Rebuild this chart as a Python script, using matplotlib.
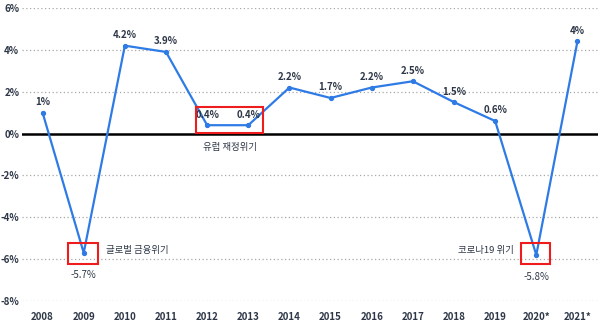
import matplotlib
matplotlib.use('Agg')
import matplotlib.pyplot as plt
from matplotlib.patches import Rectangle

plt.rcParams['font.family'] = ['Noto Sans CJK KR', 'DejaVu Sans']

# data
years = ['2008', '2009', '2010', '2011', '2012', '2013', '2014', '2015',
         '2016', '2017', '2018', '2019', '2020*', '2021*']
growth = [1.0, -5.7, 4.2, 3.9, 0.4, 0.4, 2.2, 1.7, 2.2, 2.5, 1.5, 0.6, -5.8, 4.4]
point_labels = ['1%', '-5.7%', '4.2%', '3.9%', '0.4%', '0.4%', '2.2%', '1.7%',
                '2.2%', '2.5%', '1.5%', '0.6%', '-5.8%', '4%']
y_ticks = [-8, -6, -4, -2, 0, 2, 4, 6]

line_color = '#2f7be6'
text_color = '#2e3747'
box_color = '#ee1c1c'

fig = plt.figure(figsize=(6.01, 3.21), dpi=100)
ax = fig.add_axes([22 / 601, 1 - 301 / 321, 576 / 601, 293 / 321])

x = list(range(len(years)))
ax.plot(x, growth, color=line_color, lw=1.6, marker='o', ms=2.8, zorder=3)

# point labels
for i, (v, lab) in enumerate(zip(growth, point_labels)):
    if v < 0:
        ax.annotate(lab, (i, v), xytext=(0, -12), textcoords='offset points',
                    ha='center', va='top', fontsize=7, color=text_color)
    else:
        ax.annotate(lab, (i, v), xytext=(0, 4), textcoords='offset points',
                    ha='center', va='bottom', fontsize=7, color=text_color,
                    fontweight='bold')

# grid & zero line
ax.set_ylim(-8, 6)
ax.set_xlim(-0.5, len(years) - 0.5)
ax.set_yticks(y_ticks)
ax.set_yticklabels([f'{t}%' for t in y_ticks])
ax.set_xticks(x)
ax.set_xticklabels(years)
for t in y_ticks:
    if t != 0:
        ax.axhline(t, color='#a8a8a8', lw=0.9, ls=(0, (1, 2)), zorder=1)
ax.axhline(0, color='black', lw=1.8, zorder=2)

for s in ax.spines.values():
    s.set_visible(False)
ax.tick_params(length=0, colors=text_color, labelsize=7, pad=2)
ax.tick_params(axis='x', pad=8)
for lab in ax.get_xticklabels() + ax.get_yticklabels():
    lab.set_fontweight('bold')

# highlight boxes
boxes = [(0.62, -6.25, 0.72, 1.0), (3.74, 0.05, 1.62, 1.2), (11.63, -6.25, 0.7, 1.0)]
for bx, by, bw, bh in boxes:
    ax.add_patch(Rectangle((bx, by), bw, bh, fill=False, ec=box_color, lw=1.5, zorder=4))

ax.text(1.55, -5.6, '글로벌 금융위기', fontsize=6.8, color=text_color, va='center', ha='left')
ax.text(4.55, -0.65, '유럽 재정위기', fontsize=6.8, color=text_color, va='center', ha='center')
ax.text(11.45, -5.6, '코로나19 위기', fontsize=6.8, color=text_color, va='center', ha='right')

fig.savefig('out.png', dpi=100)
